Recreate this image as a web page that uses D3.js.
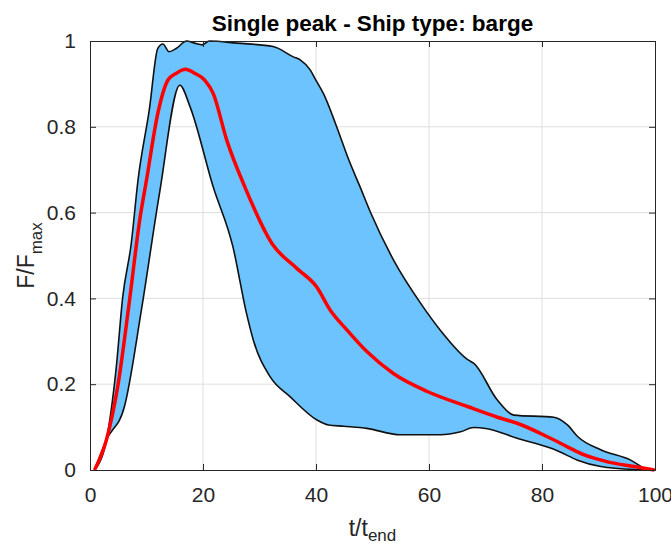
<!DOCTYPE html>
<html>
<head>
<meta charset="utf-8">
<script src="https://cdn.jsdelivr.net/npm/d3@7"></script>
<style>
  body { margin: 0; background: #fff; }
  text { font-family: "Liberation Sans", Arial, Helvetica, sans-serif; fill: #262626; }
</style>
</head>
<body>
<div id="chart"></div>
<script>
// Envelope upper bound
const upperT = [0.8, 2.9, 4.6, 5.8, 7.3, 8.5, 10.5, 12.0, 12.9, 14.0, 15.3, 17.1, 18.5, 19.9, 21.1, 26, 32.4, 36.0, 37.2, 39.0, 39.8, 41.3, 44.3, 45.8, 47.8, 49.6, 53.7, 58.5, 62.0, 67.0, 67.9, 72.1, 75.0, 82.1, 84.5, 86.3, 90.4, 95.7, 98.4, 100];
const upperF = [0, 0.07, 0.233, 0.404, 0.528, 0.676, 0.84, 0.983, 0.993, 0.975, 0.983, 1.0, 0.995, 0.991, 1.0, 0.995, 0.987, 0.963, 0.956, 0.932, 0.913, 0.878, 0.777, 0.723, 0.66, 0.602, 0.49, 0.389, 0.326, 0.256, 0.249, 0.163, 0.128, 0.123, 0.105, 0.078, 0.047, 0.023, 0.003, 0];

// Envelope lower bound
const lowerT = [0.8, 2.9, 6.1, 9.1, 12.3, 15.9, 17.7, 21.8, 25.3, 27.7, 28.9, 31.9, 35.4, 40.1, 42.2, 44.9, 49.0, 54.9, 62.0, 65.6, 67.9, 70.3, 75.6, 81.5, 83.0, 86.3, 90.4, 96.3, 100];
const lowerF = [0, 0.07, 0.148, 0.373, 0.645, 0.897, 0.847, 0.66, 0.52, 0.365, 0.303, 0.217, 0.171, 0.117, 0.105, 0.102, 0.097, 0.082, 0.082, 0.089, 0.099, 0.096, 0.074, 0.051, 0.043, 0.023, 0.008, 0.001, 0];

// Mean curve
const meanT = [0.8, 2.9, 4.9, 7.0, 8.8, 10.0, 12.0, 13.8, 15.3, 16.9, 18.5, 20.3, 21.8, 24.2, 27.4, 32.2, 36.6, 40.1, 42.5, 45.5, 49.0, 53.7, 59.7, 66.8, 72.1, 75.6, 81.5, 84.5, 87.5, 91.6, 96.3, 99.9];
const meanF = [0, 0.07, 0.194, 0.396, 0.583, 0.676, 0.831, 0.909, 0.925, 0.934, 0.925, 0.909, 0.878, 0.769, 0.66, 0.528, 0.47, 0.427, 0.373, 0.326, 0.276, 0.225, 0.183, 0.148, 0.123, 0.109, 0.074, 0.054, 0.035, 0.019, 0.008, 0];

const xTicks = [0, 20, 40, 60, 80, 100];
const yTicks = [0, 0.2, 0.4, 0.6, 0.8, 1];

const W = 671, H = 543;
const margin = { top: 41, right: 16, bottom: 73, left: 90 };
const width = W - margin.left - margin.right;
const height = H - margin.top - margin.bottom;

const svg = d3.select("#chart")
  .append("svg")
  .attr("width", W)
  .attr("height", H);

const g = svg.append("g")
  .attr("transform", `translate(${margin.left},${margin.top})`);

const x = d3.scaleLinear().domain([0, 100]).range([0, width]);
const y = d3.scaleLinear().domain([0, 1]).range([height, 0]);

// grid
g.append("g")
  .selectAll("line")
  .data(xTicks.slice(1, -1))
  .join("line")
  .attr("x1", d => x(d)).attr("x2", d => x(d))
  .attr("y1", 0).attr("y2", height)
  .attr("stroke", "#dfdfdf").attr("stroke-width", 1);

g.append("g")
  .selectAll("line")
  .data(yTicks.slice(1, -1))
  .join("line")
  .attr("y1", d => y(d)).attr("y2", d => y(d))
  .attr("x1", 0).attr("x2", width)
  .attr("stroke", "#dfdfdf").attr("stroke-width", 1);

const upper = upperT.map((t, i) => [t, upperF[i]]);
const lower = lowerT.map((t, i) => [t, lowerF[i]]);
const mean = meanT.map((t, i) => [t, meanF[i]]);

const line = d3.line()
  .x(d => x(d[0]))
  .y(d => y(d[1]))
  .curve(d3.curveMonotoneX);

// shaded band between bounds (same curve as the outlines)
const bandPath = line(upper) + line(lower.slice().reverse()).replace(/^M/, "L") + "Z";
g.append("path")
  .attr("d", bandPath)
  .attr("fill", "#6dc3fd")
  .attr("stroke", "none");

[upper, lower].forEach(b => {
  g.append("path")
    .attr("d", line(b))
    .attr("fill", "none")
    .attr("stroke", "#111")
    .attr("stroke-width", 1.6)
    .attr("stroke-linejoin", "round");
});

g.append("path")
  .attr("d", line(mean))
  .attr("fill", "none")
  .attr("stroke", "#ff0000")
  .attr("stroke-width", 3.5)
  .attr("stroke-linejoin", "round");

// axes box with inward ticks
const tk = 6;
const axisColor = "#262626";

const xAxis = g.append("g")
  .attr("transform", `translate(0,${height})`)
  .call(d3.axisBottom(x).tickValues(xTicks).tickSize(-tk).tickPadding(tk + 11));
const yAxis = g.append("g")
  .call(d3.axisLeft(y).tickValues(yTicks).tickSize(-tk).tickPadding(tk + 8).tickFormat(d3.format("")));
const xTop = g.append("g")
  .call(d3.axisTop(x).tickValues(xTicks).tickSize(-tk).tickFormat(""));
const yRight = g.append("g")
  .attr("transform", `translate(${width},0)`)
  .call(d3.axisRight(y).tickValues(yTicks).tickSize(-tk).tickFormat(""));

[xAxis, yAxis, xTop, yRight].forEach(a => {
  a.select(".domain").attr("stroke", axisColor).attr("stroke-width", 1);
  a.selectAll(".tick line").attr("stroke", axisColor);
});

xAxis.selectAll(".tick text")
  .style("font-size", "21px")
  .attr("fill", axisColor);
yAxis.selectAll(".tick text")
  .style("font-size", "21px")
  .attr("fill", axisColor);

// title
svg.append("text")
  .attr("x", margin.left + width / 2)
  .attr("y", 31)
  .attr("text-anchor", "middle")
  .style("font-size", "22.5px")
  .style("font-weight", "bold")
  .style("fill", "#000")
  .text("Single peak - Ship type: barge");

// x label
const xl = svg.append("text")
  .attr("x", margin.left + width / 2)
  .attr("y", 536)
  .attr("text-anchor", "middle")
  .style("font-size", "23px");
xl.append("tspan").text("t/t");
xl.append("tspan").attr("dy", 5).style("font-size", "17px").text("end");

// y label
const yl = svg.append("text")
  .attr("transform", `translate(34,${margin.top + height / 2}) rotate(-90)`)
  .attr("text-anchor", "middle")
  .style("font-size", "23px");
yl.append("tspan").text("F/F");
yl.append("tspan").attr("dy", 8).style("font-size", "17px").text("max");
</script>
</body>
</html>
